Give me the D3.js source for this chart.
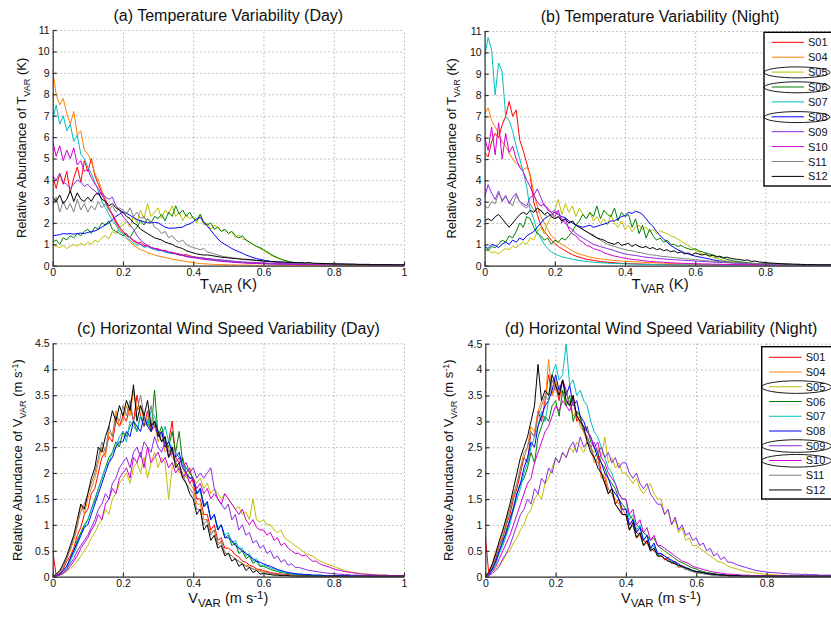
<!DOCTYPE html>
<html>
<head>
<meta charset="utf-8">
<script src="https://cdn.jsdelivr.net/npm/d3@7"></script>
<style>
  body { margin: 0; background: #fff; }
  svg { display: block; font-family: "Liberation Sans", Arial, Helvetica, sans-serif; }
  .grid line { stroke: #8a8a8a; stroke-dasharray: 1,3; }
  .grid path { display: none; }
  .axis path, .axis line { stroke: #333; stroke-width: 1.2; }
  .axis text { font-size: 10.5px; fill: #111; }
  .series { fill: none; stroke-width: 1; stroke-linejoin: round; }
</style>
</head>
<body>
<svg id="fig" width="831" height="618"></svg>
<script>
// stations, in legend order
const stations = ['S01', 'S04', 'S05', 'S06', 'S07', 'S08', 'S09', 'S10', 'S11', 'S12'];
const stationColors = ['#ff0000', '#ff8000', '#bfbf00', '#008000', '#00bfbf', '#0000ff', '#8a2be2', '#d000d0', '#808080', '#000000'];

// histogram bins are 0.01 wide, starting at 0
const binStep = 0.01;
const xTicks = [0, 0.2, 0.4, 0.6, 0.8, 1];
const tempTicks = [0, 1, 2, 3, 4, 5, 6, 7, 8, 9, 10, 11];
const windTicks = [0, 0.5, 1, 1.5, 2, 2.5, 3, 3.5, 4, 4.5];

// (a) temperature variability, day
const tempDay = [
  [4.2,3.6,4.3,3.8,4.4,3.4,4.1,4.6,3.9,4.9,
   4.4,5.0,4.2,3.8,3.4,3.1,2.7,2.4,2.1,1.8,
   1.6,1.4,1.3,1.15,1.05,1.1,0.95,0.9,0.85,0.8,
   0.78,0.72,0.7,0.64,0.62,0.58,0.55,0.5,0.52,0.46,
   0.42,0.4,0.37,0.35,0.33,0.3,0.28,0.26,0.25,0.22,
   0.2,0.19,0.18,0.16,0.15,0.14,0.13,0.12,0.12,0.11,
   0.1,0.1,0.09,0.09,0.08,0.08,0.07,0.07,0.07,0.06,
   0.06,0.06,0.06,0.05,0.05,0.05,0.05,0.05,0.04,0.04,
   0.04,0.04,0.04,0.04,0.04,0.04,0.03,0.03,0.03,0.03,
   0.03,0.03,0.03,0.03,0.03,0.03,0.03,0.03,0.03,0.03,
   0.03],
  [9.1,8.0,7.5,7.8,7.1,6.6,7.2,6.1,6.3,5.4,
   5.2,4.9,4.3,4.0,3.5,3.1,2.7,2.3,2.0,1.7,
   1.5,1.3,1.1,0.95,0.85,0.75,0.7,0.6,0.55,0.5,
   0.45,0.42,0.38,0.35,0.3,0.28,0.25,0.22,0.2,0.17,
   0.15,0.12,0.1,0.09,0.08,0.07,0.06,0.06,0.05,0.05,
   0.04,0.04,0.04,0.03,0.03,0.03,0.03,0.02,0.02,0.02,
   0.02,0.02,0.02,0.02,0.02,0.02,0.02,0.02,0.02,0.02,
   0.02,0.02,0.02,0.02,0.02,0.02,0.02,0.02,0.02,0.02,
   0.02,0.02,0.02,0.02,0.02,0.02,0.02,0.02,0.02,0.02,
   0.02,0.02,0.02,0.02,0.02,0.02,0.02,0.02,0.02,0.02,
   0.02],
  [0.95,0.9,0.85,0.95,0.8,0.9,1.0,0.9,1.05,0.95,
   1.1,1.0,1.2,1.1,1.3,1.4,1.25,1.6,1.5,1.8,
   1.9,2.1,1.8,2.3,2.0,2.6,2.2,2.9,2.3,2.5,
   2.7,2.2,2.6,2.4,2.8,2.3,2.5,2.1,2.4,2.2,
   2.3,2.0,2.4,1.9,2.0,1.7,1.9,1.8,1.6,1.7,
   1.5,1.6,1.3,1.45,1.25,1.2,1.1,1.0,0.9,0.8,
   0.7,0.6,0.5,0.42,0.35,0.3,0.24,0.2,0.16,0.13,
   0.12,0.1,0.1,0.09,0.08,0.08,0.07,0.07,0.06,0.06,
   0.06,0.05,0.05,0.05,0.05,0.04,0.04,0.04,0.04,0.04,
   0.04,0.03,0.03,0.03,0.03,0.03,0.03,0.03,0.03,0.03,
   0.03],
  [1.1,1.2,1.0,1.3,1.2,1.4,1.3,1.5,1.4,1.6,
   1.7,1.5,1.8,1.7,2.0,1.9,2.1,1.7,1.6,1.5,
   1.4,1.5,1.3,1.6,1.8,2.1,1.9,2.2,2.0,2.3,
   2.2,2.4,2.1,2.5,2.3,2.8,2.4,2.6,2.3,2.5,
   2.2,2.1,2.4,2.0,1.9,2.0,1.7,1.8,1.6,1.7,
   1.5,1.6,1.4,1.3,1.4,1.2,1.1,1.0,0.9,0.85,
   0.75,0.65,0.55,0.45,0.38,0.3,0.25,0.2,0.17,0.14,
   0.12,0.11,0.1,0.09,0.09,0.08,0.07,0.07,0.06,0.06,
   0.06,0.05,0.05,0.05,0.04,0.04,0.04,0.04,0.04,0.03,
   0.03,0.03,0.03,0.03,0.03,0.03,0.03,0.03,0.03,0.03,
   0.03],
  [6.8,7.5,6.6,7.0,6.3,6.6,5.8,6.1,5.2,5.0,
   4.6,4.3,3.9,3.5,3.0,2.7,2.4,2.1,1.9,1.6,
   1.5,1.3,1.2,1.05,0.95,1.0,0.85,0.9,0.8,0.75,
   0.7,0.72,0.62,0.6,0.55,0.58,0.5,0.48,0.45,0.42,
   0.4,0.38,0.36,0.33,0.3,0.3,0.27,0.25,0.23,0.22,
   0.2,0.19,0.18,0.16,0.15,0.14,0.13,0.12,0.11,0.1,
   0.1,0.09,0.09,0.08,0.08,0.07,0.07,0.07,0.06,0.06,
   0.06,0.06,0.05,0.05,0.05,0.05,0.05,0.05,0.04,0.04,
   0.04,0.04,0.04,0.04,0.04,0.04,0.04,0.04,0.04,0.04,
   0.03,0.03,0.03,0.03,0.03,0.03,0.03,0.03,0.03,0.03,
   0.03],
  [1.4,1.42,1.45,1.5,1.48,1.5,1.47,1.5,1.52,1.5,
   1.55,1.6,1.62,1.7,1.8,1.9,2.0,2.15,2.3,2.4,
   2.5,2.45,2.35,2.25,2.15,2.1,2.05,2.0,2.0,2.02,
   2.0,1.9,1.8,1.75,1.75,1.76,1.78,1.8,1.9,1.95,
   2.05,2.2,2.25,2.05,1.85,1.65,1.45,1.25,1.1,1.0,
   0.9,0.8,0.72,0.65,0.58,0.5,0.44,0.38,0.33,0.3,
   0.26,0.23,0.2,0.18,0.16,0.15,0.14,0.13,0.12,0.12,
   0.11,0.11,0.1,0.1,0.1,0.09,0.09,0.09,0.08,0.08,
   0.08,0.08,0.07,0.07,0.07,0.07,0.06,0.06,0.06,0.06,
   0.06,0.05,0.05,0.05,0.05,0.05,0.05,0.04,0.04,0.04,
   0.04],
  [4.2,4.0,4.3,3.9,3.8,3.6,3.8,4.0,3.9,3.7,
   3.8,3.6,3.5,3.3,3.4,3.2,3.1,3.2,2.8,2.6,
   2.3,2.1,1.9,1.7,1.4,1.2,1.05,0.95,0.85,0.8,
   0.75,0.7,0.68,0.62,0.6,0.55,0.52,0.5,0.45,0.42,
   0.4,0.38,0.36,0.35,0.33,0.32,0.3,0.28,0.27,0.25,
   0.24,0.22,0.2,0.19,0.18,0.17,0.16,0.15,0.15,0.14,
   0.13,0.12,0.12,0.11,0.11,0.1,0.1,0.1,0.09,0.09,
   0.09,0.08,0.08,0.08,0.07,0.07,0.07,0.07,0.06,0.06,
   0.06,0.06,0.06,0.05,0.05,0.05,0.05,0.05,0.05,0.05,
   0.05,0.05,0.04,0.04,0.04,0.04,0.04,0.04,0.04,0.04,
   0.04],
  [5.8,5.1,5.6,4.9,5.4,5.0,5.5,4.7,4.9,4.4,
   4.5,4.1,3.8,3.6,3.3,3.0,2.6,2.4,2.0,1.8,
   1.6,1.45,1.3,1.2,1.1,1.0,0.9,0.95,0.85,0.8,
   0.78,0.7,0.72,0.62,0.6,0.55,0.5,0.48,0.42,0.4,
   0.37,0.35,0.32,0.3,0.28,0.26,0.24,0.22,0.2,0.19,
   0.18,0.16,0.15,0.14,0.13,0.12,0.11,0.11,0.1,0.1,
   0.09,0.09,0.08,0.08,0.07,0.07,0.07,0.06,0.06,0.06,
   0.06,0.05,0.05,0.05,0.05,0.05,0.05,0.04,0.04,0.04,
   0.04,0.04,0.04,0.04,0.04,0.04,0.04,0.04,0.04,0.04,
   0.03,0.03,0.03,0.03,0.03,0.03,0.03,0.03,0.03,0.03,
   0.03],
  [2.8,3.2,2.5,3.0,2.6,2.9,2.5,3.1,2.6,2.9,
   2.5,2.8,2.6,3.0,2.7,2.9,2.6,2.8,2.5,2.7,
   2.6,2.4,2.7,2.3,2.5,2.2,2.3,2.0,2.1,1.8,
   1.7,1.5,1.6,1.3,1.4,1.2,1.1,1.2,1.0,0.9,
   0.85,0.8,0.75,0.8,0.65,0.6,0.55,0.5,0.45,0.42,
   0.4,0.37,0.35,0.33,0.3,0.28,0.27,0.25,0.24,0.22,
   0.21,0.2,0.19,0.18,0.17,0.16,0.15,0.14,0.14,0.13,
   0.12,0.12,0.11,0.11,0.1,0.1,0.09,0.09,0.08,0.08,
   0.08,0.07,0.07,0.07,0.06,0.06,0.06,0.06,0.05,0.05,
   0.05,0.05,0.05,0.05,0.04,0.04,0.04,0.04,0.04,0.04,
   0.04],
  [3.2,3.0,3.3,2.9,3.1,3.5,3.0,3.4,3.1,3.0,
   3.2,3.0,3.3,3.4,3.1,3.0,2.8,2.9,2.7,2.6,
   2.5,2.3,2.2,2.0,1.9,1.7,1.6,1.5,1.4,1.3,
   1.25,1.2,1.1,1.05,1.0,0.9,0.85,0.8,0.7,0.65,
   0.6,0.55,0.52,0.5,0.5,0.48,0.45,0.42,0.4,0.38,
   0.36,0.35,0.33,0.32,0.3,0.3,0.28,0.27,0.25,0.24,
   0.22,0.21,0.2,0.19,0.18,0.18,0.17,0.16,0.15,0.15,
   0.14,0.14,0.13,0.15,0.12,0.11,0.11,0.1,0.1,0.09,
   0.09,0.08,0.08,0.08,0.07,0.07,0.07,0.06,0.06,0.06,
   0.06,0.05,0.05,0.05,0.05,0.05,0.05,0.04,0.04,0.04,
   0.04]
];

// (b) temperature variability, night
const tempNight = [
  [5.3,5.1,5.8,6.2,6.0,6.6,7.0,7.7,7.0,7.3,
   5.9,5.4,4.8,4.2,3.0,2.4,1.9,1.6,1.4,1.2,
   1.05,0.9,0.8,0.7,0.6,0.52,0.45,0.4,0.35,0.3,
   0.28,0.25,0.22,0.2,0.18,0.16,0.15,0.14,0.12,0.11,
   0.1,0.1,0.09,0.09,0.08,0.08,0.07,0.07,0.06,0.06,
   0.06,0.05,0.05,0.05,0.05,0.04,0.04,0.04,0.04,0.04,
   0.04,0.03,0.03,0.03,0.03,0.03,0.03,0.03,0.03,0.03,
   0.03,0.03,0.03,0.03,0.03,0.03,0.03,0.03,0.03,0.03,
   0.03,0.03,0.03,0.03,0.03,0.03,0.03,0.03,0.03,0.03,
   0.02,0.02,0.02,0.02,0.02,0.02,0.02,0.02,0.02,0.02,
   0.02],
  [7.1,7.4,6.8,6.5,6.2,5.8,5.6,5.3,5.0,4.8,
   4.7,4.5,4.6,4.3,3.4,2.8,2.3,2.0,1.7,1.4,
   1.25,1.1,1.0,0.9,0.8,0.7,0.6,0.55,0.5,0.45,
   0.4,0.37,0.35,0.32,0.3,0.28,0.26,0.25,0.23,0.22,
   0.2,0.2,0.19,0.18,0.17,0.16,0.15,0.15,0.14,0.13,
   0.12,0.12,0.11,0.1,0.1,0.09,0.09,0.08,0.08,0.08,
   0.07,0.07,0.07,0.06,0.06,0.06,0.05,0.05,0.05,0.05,
   0.05,0.05,0.04,0.04,0.04,0.04,0.04,0.04,0.04,0.04,
   0.04,0.04,0.04,0.04,0.04,0.04,0.04,0.04,0.04,0.04,
   0.03,0.03,0.03,0.03,0.03,0.03,0.03,0.03,0.03,0.03,
   0.03],
  [0.7,0.75,0.6,0.65,0.55,0.7,0.8,0.75,0.9,0.85,
   1.0,1.1,1.0,1.3,1.2,1.6,1.8,1.5,2.0,2.3,
   2.6,3.1,2.4,2.9,2.5,2.8,2.3,2.7,2.4,2.2,
   2.5,2.1,2.3,2.0,2.2,1.9,2.4,2.0,1.8,2.1,
   1.7,1.9,1.6,1.8,1.9,1.7,1.8,1.6,1.7,1.5,
   1.65,1.55,1.5,1.4,1.35,1.25,1.15,1.05,0.95,0.85,
   0.7,0.65,0.55,0.5,0.45,0.4,0.35,0.3,0.25,0.22,
   0.2,0.18,0.16,0.14,0.13,0.12,0.11,0.1,0.1,0.09,
   0.09,0.08,0.08,0.07,0.07,0.06,0.06,0.06,0.05,0.05,
   0.05,0.05,0.05,0.04,0.04,0.04,0.04,0.04,0.04,0.04,
   0.04],
  [0.8,0.7,0.9,0.85,1.0,1.2,1.1,1.4,1.3,1.6,
   2.0,1.8,2.3,2.2,1.8,1.5,1.4,1.2,1.3,1.0,
   1.2,1.1,1.3,1.2,1.4,1.6,1.9,2.1,2.4,2.2,
   2.5,2.3,2.8,2.2,2.6,2.4,2.3,2.7,2.1,2.5,
   2.3,2.4,1.8,2.2,1.5,1.9,1.3,1.7,1.4,1.2,
   1.3,1.1,1.2,1.0,1.0,0.9,0.95,0.85,0.8,0.75,
   0.8,0.7,0.65,0.6,0.55,0.5,0.45,0.4,0.35,0.3,
   0.26,0.22,0.2,0.18,0.16,0.14,0.12,0.11,0.1,0.09,
   0.08,0.08,0.07,0.07,0.06,0.06,0.06,0.05,0.05,0.05,
   0.05,0.04,0.04,0.04,0.04,0.04,0.04,0.04,0.04,0.04,
   0.04],
  [9.8,10.7,10.1,8.0,9.5,9.1,7.0,6.8,6.3,5.6,
   5.0,4.4,3.7,2.6,2.2,1.6,1.3,1.0,0.8,0.65,
   0.55,0.48,0.42,0.38,0.34,0.3,0.27,0.24,0.22,0.2,
   0.18,0.16,0.15,0.14,0.13,0.12,0.11,0.1,0.1,0.09,
   0.09,0.08,0.08,0.07,0.07,0.06,0.06,0.06,0.05,0.05,
   0.05,0.05,0.04,0.04,0.04,0.04,0.04,0.04,0.03,0.03,
   0.03,0.03,0.03,0.03,0.03,0.03,0.03,0.03,0.03,0.03,
   0.03,0.03,0.03,0.03,0.03,0.03,0.03,0.03,0.03,0.03,
   0.02,0.02,0.02,0.02,0.02,0.02,0.02,0.02,0.02,0.02,
   0.02,0.02,0.02,0.02,0.02,0.02,0.02,0.02,0.02,0.02,
   0.02],
  [0.9,0.8,1.0,0.95,0.85,1.0,1.1,1.0,1.2,1.1,
   1.3,1.2,1.4,1.5,1.6,1.8,2.0,2.2,2.3,2.4,
   2.5,2.4,2.3,2.25,2.1,2.0,1.9,1.85,1.8,1.85,
   1.9,1.8,1.85,1.9,1.95,2.0,2.1,2.1,2.2,2.3,
   2.35,2.5,2.45,2.55,2.5,2.4,2.2,2.0,1.83,1.6,
   1.4,1.25,1.1,0.95,0.85,0.75,0.68,0.6,0.55,0.5,
   0.45,0.42,0.38,0.35,0.32,0.28,0.25,0.22,0.2,0.18,
   0.16,0.14,0.13,0.12,0.11,0.1,0.1,0.09,0.09,0.08,
   0.08,0.07,0.07,0.07,0.06,0.06,0.06,0.06,0.05,0.05,
   0.05,0.05,0.05,0.05,0.05,0.05,0.04,0.04,0.04,0.04,
   0.04],
  [3.2,3.8,3.4,3.1,3.5,3.0,3.3,2.9,3.2,3.4,
   3.0,2.9,2.8,3.2,3.3,3.6,3.2,2.8,2.7,2.5,
   2.6,2.4,2.2,2.0,1.8,1.7,1.5,1.4,1.3,1.2,
   1.1,1.0,0.95,0.9,0.85,0.8,0.75,0.7,0.65,0.6,
   0.55,0.52,0.5,0.48,0.45,0.42,0.4,0.38,0.36,0.35,
   0.33,0.32,0.3,0.29,0.28,0.27,0.26,0.25,0.24,0.23,
   0.22,0.21,0.2,0.19,0.18,0.17,0.16,0.15,0.15,0.14,
   0.13,0.12,0.12,0.11,0.11,0.1,0.1,0.09,0.09,0.09,
   0.08,0.08,0.08,0.07,0.07,0.07,0.07,0.06,0.06,0.06,
   0.06,0.06,0.05,0.05,0.05,0.05,0.05,0.05,0.05,0.05,
   0.05],
  [6.0,5.4,6.5,5.2,6.7,5.0,6.2,5.3,5.6,5.0,
   4.6,4.4,4.0,3.7,3.3,3.0,2.8,2.9,2.6,2.5,
   2.3,2.6,2.0,2.2,1.7,1.5,1.4,1.2,1.1,0.95,
   0.9,0.8,0.75,0.7,0.6,0.55,0.5,0.45,0.42,0.38,
   0.35,0.32,0.3,0.28,0.26,0.24,0.22,0.2,0.19,0.18,
   0.17,0.16,0.15,0.14,0.13,0.12,0.11,0.11,0.1,0.1,
   0.09,0.09,0.08,0.08,0.08,0.07,0.07,0.07,0.06,0.06,
   0.06,0.06,0.05,0.05,0.05,0.05,0.05,0.05,0.04,0.04,
   0.04,0.04,0.04,0.04,0.04,0.04,0.04,0.04,0.04,0.04,
   0.04,0.04,0.04,0.04,0.04,0.04,0.04,0.04,0.04,0.04,
   0.04],
  [2.8,2.7,3.0,2.9,3.4,3.1,3.2,3.0,2.8,3.3,
   3.0,2.8,2.7,2.9,2.6,2.5,2.6,2.4,2.3,2.4,
   2.2,2.3,2.1,2.2,2.0,2.1,1.9,1.8,1.7,1.6,
   1.5,1.45,1.3,1.2,1.1,1.0,0.95,0.9,0.85,0.8,
   0.75,0.72,0.7,0.65,0.62,0.6,0.55,0.52,0.5,0.48,
   0.45,0.43,0.42,0.4,0.38,0.36,0.35,0.33,0.32,0.3,
   0.28,0.27,0.25,0.24,0.22,0.21,0.2,0.19,0.18,0.17,
   0.16,0.15,0.14,0.13,0.12,0.12,0.11,0.1,0.1,0.09,
   0.09,0.08,0.08,0.08,0.07,0.07,0.07,0.06,0.06,0.06,
   0.06,0.05,0.05,0.05,0.05,0.05,0.05,0.05,0.04,0.04,
   0.04],
  [2.1,2.2,2.1,2.3,2.4,2.2,2.0,1.8,2.0,2.2,
   2.4,2.5,2.4,2.6,2.5,2.7,2.6,2.4,2.5,2.3,
   2.2,2.3,2.1,2.2,2.0,2.1,1.9,1.8,1.7,1.6,
   1.5,1.4,1.3,1.25,1.2,1.1,1.05,1.0,1.1,0.95,
   1.0,1.05,0.9,1.0,0.9,0.85,0.9,0.8,0.85,0.75,
   0.8,0.7,0.75,0.65,0.7,0.6,0.65,0.55,0.6,0.5,
   0.6,0.55,0.5,0.55,0.45,0.5,0.4,0.45,0.38,0.4,
   0.35,0.32,0.3,0.28,0.25,0.27,0.2,0.22,0.18,0.16,
   0.15,0.13,0.12,0.11,0.1,0.09,0.08,0.08,0.07,0.07,
   0.06,0.05,0.05,0.05,0.05,0.04,0.04,0.04,0.04,0.04,
   0.04]
];

// (c) horizontal wind speed variability, day
const windDay = [
  [0.5,0.02,0.06,0.15,0.3,0.4,0.55,0.8,0.95,1.2,
   1.3,1.6,1.7,2.0,2.3,2.4,2.7,2.6,3.0,2.9,
   3.1,3.0,3.3,3.0,3.5,3.1,2.9,3.2,2.8,2.9,
   2.7,2.8,2.5,2.6,3.0,2.3,2.2,2.3,2.0,2.1,
   1.8,1.5,1.5,1.2,1.2,0.9,1.0,0.7,0.75,0.55,
   0.55,0.5,0.42,0.38,0.3,0.28,0.22,0.2,0.15,0.14,
   0.12,0.1,0.08,0.07,0.06,0.05,0.04,0.04,0.03,0.03,
   0.02,0.02,0.02,0.02,0.01,0.01,0.01,0.01,0.01,0.01,
   0.01,0.01,0.01,0.01,0.01,0.01,0.01,0.01,0.01,0.01,
   0.01,0.01,0.01,0.01,0.01,0.01,0.01,0.01,0.01,0.01,
   0.01],
  [0,0.04,0.1,0.2,0.35,0.5,0.7,0.95,1.4,1.2,
   1.5,1.7,1.9,2.2,2.5,2.3,2.8,2.7,3.2,2.9,
   3.0,3.3,3.1,3.6,3.2,3.3,3.0,3.1,2.9,3.0,
   2.6,2.8,2.4,2.5,2.3,2.2,2.1,1.9,2.0,1.8,
   1.7,1.4,1.4,1.1,1.1,0.85,0.9,0.65,0.65,0.45,
   0.45,0.4,0.35,0.3,0.25,0.22,0.2,0.15,0.14,0.12,
   0.1,0.08,0.06,0.05,0.04,0.03,0.03,0.02,0.02,0.02,
   0.01,0.01,0.01,0.01,0.01,0.01,0.01,0.01,0.01,0.01,
   0.01,0.01,0.01,0.01,0.01,0.01,0.01,0.01,0.01,0.01,
   0.01,0.01,0.01,0.01,0.01,0.01,0.01,0.01,0.01,0.01,
   0.01],
  [0,0.01,0.03,0.06,0.1,0.15,0.22,0.3,0.4,0.5,
   0.6,0.75,0.85,1.0,1.1,1.3,1.2,1.5,1.6,1.8,
   1.9,2.0,1.8,2.1,2.2,2.0,2.3,1.9,2.2,2.4,
   2.1,2.3,2.2,1.5,2.1,2.2,2.0,2.1,1.9,2.0,
   1.9,1.8,1.9,1.7,1.8,1.6,1.7,1.6,1.5,1.6,
   1.5,1.4,1.3,1.35,1.2,1.25,1.1,1.5,1.1,1.05,
   1.1,1.0,1.0,0.9,0.85,0.9,0.75,0.7,0.65,0.6,
   0.55,0.5,0.45,0.42,0.4,0.35,0.3,0.28,0.25,0.22,
   0.2,0.17,0.15,0.12,0.1,0.09,0.08,0.07,0.06,0.05,
   0.05,0.04,0.04,0.03,0.03,0.03,0.02,0.02,0.02,0.02,
   0.02],
  [0,0.02,0.05,0.12,0.2,0.35,0.5,0.7,0.85,1.0,
   1.1,1.3,1.5,1.7,1.9,2.1,2.3,2.4,2.6,2.5,
   2.8,2.7,2.9,3.0,2.8,3.1,2.9,3.0,2.8,3.6,
   2.7,2.9,2.6,2.5,2.8,2.4,2.8,2.2,2.1,2.0,
   1.9,1.6,1.7,1.4,1.4,1.1,1.2,0.9,1.0,0.75,
   0.8,0.6,0.65,0.45,0.5,0.35,0.4,0.26,0.3,0.2,
   0.2,0.17,0.14,0.12,0.1,0.08,0.07,0.06,0.05,0.04,
   0.04,0.03,0.03,0.03,0.02,0.02,0.02,0.02,0.02,0.02,
   0.01,0.01,0.01,0.01,0.01,0.01,0.01,0.01,0.01,0.01,
   0.01,0.01,0.01,0.01,0.01,0.01,0.01,0.01,0.01,0.01,
   0.01],
  [0,0.01,0.03,0.08,0.15,0.3,0.45,0.6,0.8,0.95,
   1.1,1.3,1.45,1.7,1.9,2.1,2.2,2.4,2.5,2.7,
   2.8,2.6,3.0,2.9,2.8,3.1,3.0,2.9,3.2,3.1,
   2.8,2.7,2.9,2.6,2.5,2.4,2.3,2.2,2.0,1.9,
   1.9,1.6,1.65,1.35,1.4,1.1,1.2,0.95,1.0,0.8,
   0.85,0.65,0.7,0.55,0.55,0.4,0.45,0.3,0.35,0.22,
   0.22,0.2,0.17,0.15,0.12,0.1,0.08,0.07,0.06,0.05,
   0.05,0.04,0.04,0.04,0.03,0.03,0.03,0.03,0.02,0.02,
   0.02,0.02,0.02,0.02,0.02,0.02,0.02,0.02,0.02,0.02,
   0.01,0.01,0.01,0.01,0.01,0.01,0.01,0.01,0.01,0.01,
   0.01],
  [0,0.02,0.06,0.12,0.2,0.35,0.5,0.65,0.8,0.95,
   1.0,1.2,1.4,1.6,1.8,2.0,2.2,2.3,2.5,2.6,
   2.6,2.8,2.7,3.0,2.9,2.8,3.1,2.9,2.8,3.0,
   2.7,2.8,2.5,2.6,2.4,2.3,2.4,2.1,2.0,1.9,
   1.9,1.6,1.7,1.35,1.45,1.1,1.2,0.9,1.0,0.75,
   0.75,0.7,0.6,0.55,0.5,0.45,0.4,0.35,0.3,0.28,
   0.25,0.22,0.2,0.17,0.14,0.12,0.1,0.08,0.07,0.06,
   0.05,0.05,0.04,0.04,0.03,0.03,0.03,0.02,0.02,0.02,
   0.02,0.02,0.02,0.02,0.02,0.02,0.02,0.02,0.02,0.02,
   0.01,0.01,0.01,0.01,0.01,0.01,0.01,0.01,0.01,0.01,
   0.01],
  [0,0.01,0.04,0.08,0.15,0.25,0.35,0.5,0.6,0.7,
   0.8,0.95,1.1,1.3,1.4,1.6,1.5,1.8,1.9,2.1,
   2.2,2.3,2.1,2.4,2.5,2.3,2.6,2.5,2.4,2.7,
   2.5,2.4,2.6,2.3,2.4,2.2,2.3,2.1,2.2,2.0,
   2.1,1.9,2.0,1.9,2.0,2.1,1.7,1.5,1.4,1.3,
   1.4,1.1,1.2,0.9,1.0,0.8,0.85,0.65,0.7,0.55,
   0.6,0.45,0.5,0.35,0.4,0.28,0.33,0.22,0.25,0.18,
   0.18,0.16,0.14,0.12,0.11,0.1,0.09,0.08,0.07,0.06,
   0.06,0.05,0.05,0.04,0.04,0.03,0.03,0.03,0.02,0.02,
   0.02,0.02,0.02,0.02,0.02,0.02,0.02,0.02,0.02,0.02,
   0.02],
  [0,0.01,0.03,0.07,0.12,0.2,0.3,0.4,0.55,0.65,
   0.75,0.9,1.0,1.2,1.1,1.4,1.5,1.7,1.6,1.9,
   2.0,2.1,1.9,2.3,2.2,2.4,2.1,2.5,2.2,2.3,
   2.4,2.2,2.3,2.1,2.2,2.0,2.1,1.9,2.0,1.8,
   1.9,1.7,1.8,1.6,1.7,1.5,1.6,1.5,1.4,1.6,
   1.5,1.4,1.3,1.2,1.3,1.1,1.0,1.1,0.95,0.9,
   0.9,0.8,0.85,0.7,0.75,0.6,0.65,0.55,0.5,0.45,
   0.45,0.4,0.42,0.35,0.3,0.3,0.25,0.22,0.2,0.18,
   0.15,0.13,0.12,0.1,0.09,0.08,0.07,0.06,0.05,0.05,
   0.04,0.04,0.03,0.03,0.03,0.03,0.02,0.02,0.02,0.02,
   0.02],
  [0,0.03,0.1,0.2,0.35,0.55,0.75,1.0,1.25,1.4,
   1.6,1.8,2.0,2.3,2.6,2.4,2.9,2.7,3.1,3.0,
   3.3,3.1,3.4,3.0,3.2,3.5,3.1,3.0,3.3,2.9,
   2.8,2.6,2.7,2.4,2.5,2.2,2.1,2.0,1.8,1.7,
   1.6,1.3,1.3,1.0,1.1,0.8,0.9,0.6,0.7,0.45,
   0.45,0.4,0.33,0.3,0.25,0.2,0.18,0.15,0.12,0.1,
   0.08,0.07,0.06,0.05,0.04,0.03,0.03,0.02,0.02,0.02,
   0.01,0.01,0.01,0.01,0.01,0.01,0.01,0.01,0.01,0.01,
   0.01,0.01,0.01,0.01,0.01,0.01,0.01,0.01,0.01,0.01,
   0.01,0.01,0.01,0.01,0.01,0.01,0.01,0.01,0.01,0.01,
   0.01],
  [0,0.05,0.12,0.25,0.4,0.6,0.8,1.1,1.4,1.3,
   1.6,1.9,2.1,2.5,2.4,2.7,2.9,3.2,3.0,3.3,
   3.1,3.4,3.2,3.7,3.0,3.3,3.1,3.4,2.9,3.0,
   2.8,2.6,2.7,2.3,2.5,2.1,2.2,1.9,1.8,1.6,
   1.5,1.2,1.3,0.9,1.0,0.7,0.8,0.55,0.6,0.4,
   0.45,0.3,0.35,0.2,0.25,0.12,0.18,0.08,0.12,0.05,
   0.06,0.05,0.04,0.03,0.03,0.02,0.02,0.02,0.01,0.01,
   0.01,0.01,0.01,0.01,0.01,0.01,0.01,0.01,0.01,0.01,
   0.01,0.01,0.01,0.01,0.01,0.01,0.01,0.01,0.01,0.01,
   0.01,0.01,0.01,0.01,0.01,0.01,0.01,0.01,0.01,0.01,
   0.01]
];

// (d) horizontal wind speed variability, night
const windNight = [
  [0.8,0.05,0.2,0.35,0.6,0.75,1.0,1.2,1.5,1.7,
   2.0,2.3,2.2,2.8,2.7,3.2,3.0,3.4,3.9,3.5,
   3.7,3.4,3.8,3.6,3.3,3.5,3.0,3.1,2.8,2.7,
   2.5,2.3,2.4,2.0,1.9,1.6,1.7,1.4,1.5,1.2,
   1.2,1.0,1.1,0.85,0.8,0.7,0.65,0.55,0.5,0.45,
   0.45,0.32,0.38,0.25,0.3,0.18,0.22,0.13,0.16,0.1,
   0.1,0.09,0.08,0.07,0.06,0.05,0.04,0.04,0.03,0.03,
   0.03,0.02,0.02,0.02,0.02,0.01,0.01,0.01,0.01,0.01,
   0.01,0.01,0.01,0.01,0.01,0.01,0.01,0.01,0.01,0.01,
   0.01,0.01,0.01,0.01,0.01,0.01,0.01,0.01,0.01,0.01,
   0.01],
  [0,0.1,0.25,0.5,0.65,0.9,1.1,1.3,1.6,1.8,
   2.1,2.4,2.5,2.9,2.8,3.2,3.4,3.3,4.2,3.5,
   3.8,3.5,3.6,3.3,3.4,3.1,3.2,2.9,2.8,2.6,
   2.5,2.2,2.3,1.9,2.0,1.7,1.6,1.5,1.4,1.3,
   1.2,0.9,1.0,0.75,0.8,0.6,0.65,0.5,0.55,0.4,
   0.4,0.35,0.3,0.28,0.25,0.2,0.18,0.15,0.12,0.1,
   0.08,0.07,0.06,0.05,0.04,0.03,0.03,0.02,0.02,0.02,
   0.01,0.01,0.01,0.01,0.01,0.01,0.01,0.01,0.01,0.01,
   0.01,0.01,0.01,0.01,0.01,0.01,0.01,0.01,0.01,0.01,
   0.01,0.01,0.01,0.01,0.01,0.01,0.01,0.01,0.01,0.01,
   0.01],
  [0,0.03,0.1,0.15,0.25,0.3,0.45,0.5,0.65,0.75,
   0.9,1.0,1.2,1.3,1.5,1.6,1.5,1.8,1.9,2.1,
   2.3,2.2,2.4,2.3,2.5,2.4,2.6,2.5,2.4,2.6,
   2.5,2.4,2.5,2.3,2.7,2.2,2.3,2.1,2.2,2.0,
   2.0,1.9,1.8,1.9,1.7,1.6,1.7,1.8,1.6,1.5,
   1.5,1.2,1.3,1.0,1.1,0.85,0.95,0.7,0.75,0.6,
   0.6,0.55,0.5,0.45,0.4,0.35,0.3,0.28,0.25,0.2,
   0.18,0.16,0.14,0.12,0.1,0.09,0.08,0.07,0.06,0.05,
   0.05,0.04,0.04,0.03,0.03,0.03,0.02,0.02,0.02,0.02,
   0.02,0.01,0.01,0.01,0.01,0.01,0.01,0.01,0.01,0.01,
   0.01],
  [0,0.04,0.15,0.3,0.5,0.65,0.9,1.1,1.35,1.6,
   1.8,1.9,2.1,2.4,2.2,2.7,2.9,3.1,3.0,3.3,
   3.4,3.1,3.6,3.3,3.5,3.0,3.2,3.1,2.8,2.9,
   2.6,2.5,2.4,2.2,2.1,1.9,1.8,1.7,1.5,1.4,
   1.3,1.2,1.1,1.0,0.95,0.85,0.8,0.7,0.75,0.6,
   0.55,0.5,0.45,0.4,0.35,0.3,0.27,0.24,0.2,0.17,
   0.15,0.12,0.1,0.08,0.07,0.06,0.05,0.04,0.03,0.03,
   0.02,0.02,0.02,0.02,0.02,0.01,0.01,0.01,0.01,0.01,
   0.01,0.01,0.01,0.01,0.01,0.01,0.01,0.01,0.01,0.01,
   0.01,0.01,0.01,0.01,0.01,0.01,0.01,0.01,0.01,0.01,
   0.01],
  [0,0.03,0.1,0.25,0.45,0.6,0.8,1.0,1.3,1.5,
   1.7,2.0,2.2,2.5,2.7,2.9,3.2,3.0,3.4,3.9,
   4.1,3.8,3.9,4.5,3.7,3.8,3.5,3.6,3.4,3.3,
   3.0,2.8,2.7,2.5,2.3,2.1,2.0,1.8,1.6,1.5,
   1.5,1.1,1.2,0.9,1.0,0.7,0.8,0.55,0.6,0.42,
   0.45,0.4,0.35,0.3,0.26,0.22,0.19,0.16,0.13,0.11,
   0.09,0.08,0.06,0.05,0.04,0.03,0.03,0.02,0.02,0.02,
   0.01,0.01,0.01,0.01,0.01,0.01,0.01,0.01,0.01,0.01,
   0.01,0.01,0.01,0.01,0.01,0.01,0.01,0.01,0.01,0.01,
   0.01,0.01,0.01,0.01,0.01,0.01,0.01,0.01,0.01,0.01,
   0.01],
  [0,0.04,0.15,0.3,0.5,0.7,0.85,1.1,1.3,1.6,
   1.8,2.1,2.3,2.6,2.5,2.9,3.1,3.3,3.4,3.6,
   3.9,3.6,3.8,3.5,3.7,3.3,3.4,3.1,3.0,2.8,
   2.7,2.5,2.3,2.2,2.0,1.9,1.7,1.6,1.5,1.3,
   1.3,1.0,1.1,0.85,0.95,0.7,0.8,0.55,0.65,0.45,
   0.45,0.4,0.35,0.32,0.28,0.25,0.2,0.18,0.15,0.12,
   0.1,0.09,0.07,0.06,0.05,0.04,0.04,0.03,0.03,0.02,
   0.02,0.02,0.02,0.02,0.01,0.01,0.01,0.01,0.01,0.01,
   0.01,0.01,0.01,0.01,0.01,0.01,0.01,0.01,0.01,0.01,
   0.01,0.01,0.01,0.01,0.01,0.01,0.01,0.01,0.01,0.01,
   0.01],
  [0,0.02,0.06,0.12,0.2,0.35,0.45,0.6,0.8,1.0,
   1.2,1.3,1.5,1.4,1.7,1.6,1.9,1.8,2.1,2.0,
   2.3,2.2,2.4,2.3,2.5,2.6,2.4,2.7,2.5,2.6,
   2.5,2.6,2.4,2.5,2.3,2.4,2.2,2.3,2.1,2.2,
   2.2,2.0,1.9,2.0,1.8,1.7,1.8,1.6,1.5,1.4,
   1.4,1.2,1.3,1.0,1.15,0.9,1.0,0.8,0.85,0.7,
   0.75,0.6,0.65,0.5,0.55,0.4,0.45,0.33,0.38,0.28,
   0.28,0.25,0.22,0.2,0.18,0.16,0.14,0.12,0.11,0.1,
   0.09,0.08,0.08,0.07,0.07,0.06,0.06,0.05,0.05,0.05,
   0.04,0.05,0.04,0.04,0.04,0.03,0.03,0.03,0.03,0.03,
   0.03],
  [0,0.03,0.1,0.2,0.35,0.5,0.65,0.8,1.0,1.2,
   1.4,1.6,1.8,1.9,2.2,2.4,2.6,2.8,2.9,3.1,
   3.3,3.2,3.4,3.3,3.2,3.4,3.1,3.0,2.9,2.8,
   2.7,2.5,2.6,2.3,2.2,2.0,1.9,1.8,1.6,1.5,
   1.5,1.2,1.3,1.0,1.1,0.85,0.95,0.7,0.8,0.6,
   0.6,0.55,0.5,0.45,0.4,0.35,0.3,0.28,0.25,0.2,
   0.18,0.16,0.14,0.12,0.1,0.09,0.08,0.07,0.06,0.05,
   0.05,0.04,0.04,0.03,0.03,0.03,0.02,0.02,0.02,0.02,
   0.02,0.02,0.02,0.02,0.02,0.01,0.01,0.01,0.01,0.01,
   0.01,0.01,0.01,0.01,0.01,0.01,0.01,0.01,0.01,0.01,
   0.01],
  [0,0.06,0.2,0.4,0.6,0.8,1.05,1.3,1.55,1.8,
   2.1,2.3,2.5,2.8,2.7,3.1,3.3,3.5,3.4,3.8,
   3.6,3.7,3.5,3.6,3.3,3.4,3.1,3.0,2.8,2.7,
   2.5,2.3,2.2,2.0,1.8,1.7,1.6,1.4,1.3,1.2,
   1.2,0.9,1.0,0.75,0.85,0.6,0.7,0.5,0.55,0.4,
   0.4,0.35,0.32,0.28,0.24,0.2,0.18,0.15,0.12,0.1,
   0.08,0.07,0.06,0.05,0.04,0.03,0.03,0.02,0.02,0.02,
   0.01,0.01,0.01,0.01,0.01,0.01,0.01,0.01,0.01,0.01,
   0.01,0.01,0.01,0.01,0.01,0.01,0.01,0.01,0.01,0.01,
   0.01,0.01,0.01,0.01,0.01,0.01,0.01,0.01,0.01,0.01,
   0.01],
  [0,0.08,0.25,0.45,0.7,0.9,1.15,1.4,1.7,2.0,
   2.3,2.5,2.7,3.0,3.3,4.1,3.4,3.6,3.5,3.9,
   3.7,3.5,3.8,3.4,3.3,3.5,3.1,3.0,2.9,2.6,
   2.4,2.3,2.1,2.0,1.8,1.6,1.7,1.4,1.3,1.2,
   1.2,0.9,1.05,0.75,0.85,0.6,0.7,0.5,0.55,0.4,
   0.4,0.35,0.3,0.28,0.25,0.22,0.2,0.17,0.15,0.12,
   0.1,0.09,0.08,0.06,0.05,0.05,0.04,0.03,0.03,0.02,
   0.02,0.02,0.02,0.01,0.01,0.01,0.01,0.01,0.01,0.01,
   0.01,0.01,0.01,0.01,0.01,0.01,0.01,0.01,0.01,0.01,
   0.01,0.01,0.01,0.01,0.01,0.01,0.01,0.01,0.01,0.01,
   0.01]
];

const tempVar = [{t: 'T'}, {t: 'VAR', sub: true}, {t: ' (K)'}];
const windVar = [{t: 'V'}, {t: 'VAR', sub: true}, {t: ' (m s'}, {t: '-1', sup: true}, {t: ')'}];

const svg = d3.select('#fig');
const figWidth = +svg.attr('width');

// writes text with sub/superscript parts into a <text> element
function addRichText(textSel, parts, fontSize, smallScale) {
  let shift = 0;
  parts.forEach(p => {
    const target = p.sub ? 4 : (p.sup ? -4.5 : 0);
    textSel.append('tspan')
      .attr('dy', target - shift)
      .attr('font-size', (p.sub || p.sup) ? fontSize * smallScale : fontSize)
      .text(p.t);
    shift = target;
  });
}

class variabilityPanel {

  constructor(_config, _data) {
    this.config = {
      id: _config.id,
      left: _config.left,
      top: _config.top,
      width: _config.width,
      height: _config.height,
      yMax: _config.yMax,
      yTicks: _config.yTicks,
      title: _config.title,
      varLabel: _config.varLabel,
      xLabelSize: _config.xLabelSize || 15,
      xLabelOffset: _config.xLabelOffset || 23,
      yLabelOffset: _config.yLabelOffset || 27,
      legend: _config.legend || null
    };
    this.data = _data.map((values, k) => ({
      station: stations[k],
      color: stationColors[k],
      points: values.map((v, i) => ({x: i * binStep, y: v}))
    }));
    this.initVis();
  }

  initVis() {
    let vis = this;
    const c = vis.config;

    vis.xScale = d3.scaleLinear().domain([0, 1]).range([0, c.width]);
    vis.yScale = d3.scaleLinear().domain([0, c.yMax]).range([c.height, 0]);

    vis.chart = svg.append('g')
      .attr('transform', `translate(${c.left},${c.top})`);

    vis.chart.append('clipPath')
      .attr('id', `clip-${c.id}`)
      .append('rect')
      .attr('width', c.width)
      .attr('height', c.height);

    // dotted grid
    vis.chart.append('g')
      .attr('class', 'grid')
      .call(d3.axisLeft(vis.yScale).tickValues(c.yTicks).tickSize(-c.width).tickFormat(''));
    vis.chart.append('g')
      .attr('class', 'grid')
      .attr('transform', `translate(0,${c.height})`)
      .call(d3.axisBottom(vis.xScale).tickValues(xTicks).tickSize(-c.height).tickFormat(''));

    vis.line = d3.line()
      .x(d => vis.xScale(d.x))
      .y(d => vis.yScale(d.y));

    vis.renderVis();
  }

  renderVis() {
    let vis = this;
    const c = vis.config;

    vis.chart.append('g')
      .attr('clip-path', `url(#clip-${c.id})`)
      .selectAll('path')
      .data(vis.data)
      .join('path')
        .attr('class', 'series')
        .attr('stroke', d => d.color)
        .attr('d', d => vis.line(d.points));

    // axes with inward ticks; labels past the page edge are left out
    vis.chart.append('g')
      .attr('class', 'axis')
      .call(d3.axisLeft(vis.yScale).tickValues(c.yTicks)
        .tickSizeInner(-4).tickSizeOuter(0).tickPadding(3)
        .tickFormat(d3.format('~g')));

    vis.chart.append('g')
      .attr('class', 'axis')
      .attr('transform', `translate(0,${c.height})`)
      .call(d3.axisBottom(vis.xScale)
        .tickValues(xTicks.filter(v => c.left + vis.xScale(v) < figWidth - 3))
        .tickSizeInner(-4).tickSizeOuter(0).tickPadding(3)
        .tickFormat(d3.format('~g')));

    vis.chart.append('text')
      .attr('x', c.width / 2)
      .attr('y', -9.5)
      .attr('text-anchor', 'middle')
      .attr('font-size', 16)
      .attr('fill', '#111')
      .text(c.title);

    const xl = vis.chart.append('text')
      .attr('x', c.width / 2)
      .attr('y', c.height + c.xLabelOffset)
      .attr('text-anchor', 'middle')
      .attr('fill', '#111');
    addRichText(xl, c.varLabel, c.xLabelSize, 0.8);

    const yl = vis.chart.append('text')
      .attr('transform', `translate(${-c.yLabelOffset},${c.height / 2}) rotate(-90)`)
      .attr('text-anchor', 'middle')
      .attr('fill', '#111');
    addRichText(yl, [{t: 'Relative Abundance of '}].concat(c.varLabel), 13, 0.7);

    if (c.legend) vis.renderLegend();
  }

  renderLegend() {
    let vis = this;
    const lg = vis.config.legend;
    const g = svg.append('g');

    g.append('rect')
      .attr('x', lg.x).attr('y', lg.y)
      .attr('width', 90).attr('height', lg.h)
      .attr('fill', '#fff')
      .attr('stroke', '#000')
      .attr('stroke-width', 1.4);

    const rows = g.selectAll('g.entry')
      .data(vis.data)
      .join('g')
        .attr('class', 'entry')
        .attr('transform', (d, i) => `translate(0,${lg.rowY0 + i * lg.rowH})`);

    rows.append('line')
      .attr('x1', lg.lineX1).attr('x2', lg.lineX2)
      .attr('stroke', d => d.color)
      .attr('stroke-width', 1);

    rows.append('text')
      .attr('x', lg.textX)
      .attr('y', 4)
      .attr('font-size', 11)
      .attr('fill', '#111')
      .text(d => d.station);

    rows.filter(d => lg.circled.includes(d.station))
      .append('ellipse')
      .attr('cx', lg.cx).attr('cy', 0.3)
      .attr('rx', lg.rx).attr('ry', lg.ry)
      .attr('fill', 'none')
      .attr('stroke', '#000')
      .attr('stroke-width', 0.9);
  }
}

new variabilityPanel({
  id: 'a', left: 52.7, top: 30, width: 351.3, height: 235.7,
  yMax: 11, yTicks: tempTicks, yLabelOffset: 26.5,
  title: '(a) Temperature Variability (Day)', varLabel: tempVar
}, tempDay);

new variabilityPanel({
  id: 'b', left: 484.6, top: 31, width: 351, height: 234.7,
  yMax: 11, yTicks: tempTicks, yLabelOffset: 28.5,
  title: '(b) Temperature Variability (Night)', varLabel: tempVar,
  legend: {x: 764, y: 32.3, h: 153.7, rowY0: 42.3, rowH: 14.9,
    lineX1: 771.7, lineX2: 804, textX: 808,
    circled: ['S05', 'S06', 'S08'], cx: 797, rx: 33, ry: 5.5}
}, tempNight);

new variabilityPanel({
  id: 'c', left: 52.7, top: 343.3, width: 351.3, height: 233.4,
  yMax: 4.5, yTicks: windTicks, yLabelOffset: 30.7,
  xLabelSize: 14.5, xLabelOffset: 26.5,
  title: '(c) Horizontal Wind Speed Variability (Day)', varLabel: windVar
}, windDay);

new variabilityPanel({
  id: 'd', left: 485.3, top: 343.7, width: 351.5, height: 233,
  yMax: 4.5, yTicks: windTicks, yLabelOffset: 32,
  xLabelSize: 14.5, xLabelOffset: 26.5,
  title: '(d) Horizontal Wind Speed Variability (Night)', varLabel: windVar,
  legend: {x: 761.7, y: 346.7, h: 152.3, rowY0: 357.3, rowH: 14.74,
    lineX1: 769, lineX2: 801.7, textX: 805.7,
    circled: ['S05', 'S09', 'S10'], cx: 796.5, rx: 35, ry: 6.3}
}, windNight);
</script>
</body>
</html>
